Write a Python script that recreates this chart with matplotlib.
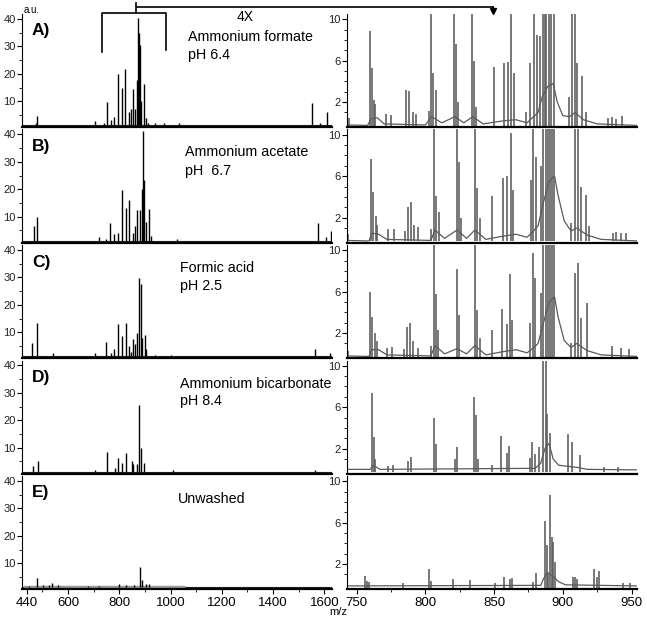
import matplotlib
matplotlib.use("Agg")
import numpy as np
import matplotlib.pyplot as plt
from matplotlib.lines import Line2D

plt.rcParams['font.family'] = ['Liberation Sans', 'DejaVu Sans']

# ---- full range spectra (left column), peak m/z and intensity (a.u.)
leftA_mz = [473, 478, 703, 741, 750.6, 766, 778.5, 795.4, 809.8, 822.9, 836, 843.8, 851.6, 859.5, 867.3,
            873.8, 876, 879, 885.6, 896, 904, 913, 940, 975, 1031, 1552, 1582, 1609]
leftA_h = [2.2, 4.6, 2.8, 2.0, 9.8, 3.0, 4.4, 20, 14.9, 21.8, 6.0, 7.0, 14.5, 7.0, 17.9,
           40.5, 35, 30.6, 10, 16.4, 4.0, 2.0, 2.0, 2.0, 2.0, 9.2, 2.0, 6.2]
leftB_mz = [467.5, 478.6, 719, 747.7, 764.7, 777.8, 794.8, 810.5, 826.1, 839.2, 854.9, 862.7, 869.3, 882.4,
            888, 891.5, 896.7, 904.6, 915, 921.6, 1026, 1575, 1605, 1627]
leftB_h = [6.6, 9.9, 2.6, 2.0, 7.8, 3.6, 4.2, 19.6, 13.3, 16.0, 4.2, 6.6, 12.3, 12.6,
           20, 41.2, 23.5, 8.0, 12.9, 3.0, 2.0, 7.8, 2.5, 4.8]
leftC_mz = [460.9, 477.9, 539.3, 706.7, 749.8, 765.5, 778.6, 794.3, 811.3, 824.3, 837.4, 846.5, 854.4, 860.9,
            870, 877.9, 883, 888.3, 898.8, 905, 940, 1000, 1562, 1621]
leftC_h = [6.0, 13.2, 2.5, 2.3, 6.6, 2.5, 3.9, 12.9, 8.5, 13.5, 4.9, 2.8, 7.5, 5.6,
           9.7, 29.6, 27.7, 8.0, 9.0, 4.0, 1.8, 1.8, 3.7, 2.3]
leftD_mz = [462, 480.7, 706.7, 752.5, 781.2, 795.6, 811.3, 824.3, 847.8, 853, 867.3, 877.8, 883, 896, 1008, 1562]
leftD_h = [3.3, 5.1, 1.8, 8.5, 2.6, 6.1, 4.5, 8.0, 5.1, 4.0, 3.9, 25.5, 10, 4.5, 1.8, 1.8]
leftE_mz = [448, 478.6, 502, 524, 538, 560, 678, 719, 797, 826, 856, 882, 888, 904, 917]
leftE_h = [1.8, 4.6, 2.0, 2.2, 2.8, 2.0, 1.6, 1.8, 2.5, 2.0, 2.0, 8.5, 4.0, 2.5, 2.3]
left_base = [1.2, 1.2, 1.2, 1.2, 1.2]
unwashed_noise = [430, 1050]  # m/z range of the grey noise band in E

# ---- 4X zoom 745-955 (right column)
zoomA_mz = [744.5, 760, 761.2, 762.7, 763.7, 771.6, 775.3, 786.2, 787.8, 791, 793.5, 802.4, 804.3, 805.5, 807.5,
            821, 822.5, 823.7, 833.9, 835.1, 837, 849.9, 857.1, 860, 862.5, 864.2, 873.4, 876.5, 879, 881.2,
            883.6, 885.5, 886.7, 888, 889.9, 891.6, 893.3, 904.5, 906.4, 908.8, 910.3, 913.9, 917, 933.2,
            935.7, 938.6, 943]
zoomA_h = [0.5, 8.9, 5.3, 2.2, 1.8, 0.9, 0.8, 3.2, 3.1, 1.0, 0.9, 1.1, 12, 4.8, 3.2,
           12, 7.6, 2.0, 12, 6.0, 1.5, 5.4, 5.8, 5.9, 12, 4.8, 1.0, 5.8, 12, 8.5,
           8.4, 12, 12, 12, 12, 12, 12, 2.5, 12, 12, 5.8, 4.5, 1.0, 0.5,
           0.6, 0.4, 0.7]
zoomB_mz = [744, 760.7, 761.9, 763.8, 765, 772.8, 776.9, 784.9, 787.6, 789.5, 791.5, 794.6, 804.3, 806.5,
            807.9, 809.9, 823.2, 824.4, 826, 836.3, 837.5, 840, 848.8, 856.3, 859.7, 862.1, 864, 876.7, 878.6,
            880.5, 884, 885.9, 887.5, 889, 890.5, 892, 893.7, 905.7, 908.6, 911, 913, 916.8, 919, 936.4, 939,
            942, 946]
zoomB_h = [0.4, 7.7, 4.5, 2.2, 1.3, 0.9, 0.9, 0.7, 3.0, 3.5, 1.3, 1.1, 0.9, 12,
           4.1, 2.5, 12, 7.4, 2.0, 12, 4.9, 2.0, 4.1, 5.8, 6.0, 10.2, 4.7, 5.6, 12,
           7.8, 7.0, 12, 12, 12, 12, 12, 12, 1.5, 12, 12, 5.0, 4.2, 1.2, 0.5, 0.6,
           0.5, 0.5]
zoomC_mz = [744, 760, 761.3, 763.2, 765, 772, 776, 784.5, 786.9, 788.9, 791, 794.5, 803.9, 806.1, 807.5,
            809.5, 822.9, 824.4, 836.3, 837.5, 840, 848.8, 856, 859.3, 861.7, 863.4, 876.2, 878.4, 879.8,
            884, 885.9, 887.5, 889, 890.5, 892, 893.7, 906, 908.6, 911, 913, 917.3, 936, 942, 948]
zoomC_h = [0.3, 6.0, 3.6, 2.0, 1.2, 0.6, 0.7, 0.5, 2.6, 3.0, 1.2, 0.6, 0.8, 12, 5.8,
           2.3, 8.2, 3.7, 12, 4.2, 1.5, 2.3, 4.3, 2.9, 7.7, 3.3, 3.0, 9.7, 7.3,
           5.9, 12, 12, 12, 12, 12, 12, 1.0, 7.8, 8.8, 3.5, 4.9, 0.8, 0.6, 0.5]
zoomD_mz = [761.1, 762.4, 763.6, 772.8, 776.5, 787.3, 789.8, 806.2, 807.5, 821.5, 822.9, 835.3, 836.5, 838,
            848.8, 855.3, 859.3, 861.2, 876, 877.9, 879.6, 882.7, 885.5, 887.5, 888.5, 890.4, 904, 906.4,
            912.4, 930, 940]
zoomD_h = [7.4, 3.1, 1.0, 0.3, 0.4, 0.8, 1.2, 5.0, 2.4, 1.0, 2.2, 7.0, 5.2, 1.0,
           0.4, 3.2, 1.6, 2.3, 1.1, 2.6, 1.5, 2.2, 12, 12, 5.3, 3.5, 3.4, 2.6,
           1.4, 0.2, 0.2]
zoomE_mz = [756, 757.5, 759, 783.9, 802.8, 804, 820.2, 832.6, 850.5, 857.5, 861.4, 863.3, 878.5, 880.2,
            887.3, 888.2, 889.4, 890.6, 891.8, 893, 894.2, 907.6, 908.8, 910, 922.9, 924.6, 926.5, 944, 948.8]
zoomE_h = [0.9, 0.4, 0.3, 0.2, 1.5, 0.4, 0.6, 0.5, 0.15, 0.8, 0.6, 0.7, 0.3, 1.1,
           6.2, 3.8, 1.0, 8.7, 4.6, 4.1, 2.2, 0.8, 0.8, 0.6, 1.5, 0.8, 1.3, 0.2, 0.2]

# baselines of the zoomed traces (m/z, level)
baseA_mz = [743, 758, 760.5, 765, 770, 800, 804.5, 812, 821.5, 828, 834.5, 842, 857, 866, 874,
            878, 882, 885, 889, 893, 896, 900, 905, 909, 915, 925, 954]
baseA = [-0.2, -0.25, 0.4, 0.5, -0.1, -0.2, 0.6, 0.0, 0.6, 0.0, 0.6, -0.1, 0.2, 0.3, 0.0,
         0.5, 1.0, 2.5, 3.5, 3.8, 2.0, 0.7, 0.6, 1.0, 0.3, -0.1, -0.25]
baseBC_mz = [743, 759, 761, 766, 772, 804, 807, 814, 823, 830, 836, 844, 856, 866, 874,
             878, 882, 886, 890, 894, 896.5, 901, 906, 910, 918, 928, 954]
baseB = [-0.2, -0.25, 0.5, 0.4, -0.1, -0.2, 0.8, 0.0, 0.8, 0.0, 0.8, -0.1, 0.2, 0.4, 0.1,
         0.6, 1.2, 3.5, 5.5, 6.0, 4.2, 1.7, 0.7, 1.0, 0.3, -0.1, -0.25]
baseC = [-0.2, -0.25, 0.4, 0.4, -0.1, -0.2, 0.8, 0.0, 0.5, 0.0, 0.8, -0.1, 0.2, 0.4, 0.1,
         0.5, 1.0, 3.0, 5.0, 5.5, 3.6, 1.3, 0.6, 1.0, 0.3, -0.1, -0.25]
baseD_mz = [743, 760, 762, 767, 880, 884, 887, 890, 893, 897, 903, 910, 918, 954]
baseD = [0.0, 0.0, 0.4, 0.0, 0.1, 0.6, 2.0, 2.5, 1.0, 0.4, 0.3, 0.2, 0.0, -0.05]
baseE_mz = [743, 884, 886, 889, 893, 897, 902, 954]
baseE = [-0.1, -0.05, 0.6, 1.2, 0.8, 0.3, 0.0, -0.1]

panel_labels = ['A)', 'B)', 'C)', 'D)', 'E)']
conditions = [['Ammonium formate', 'pH 6.4'], ['Ammonium acetate', 'pH  6.7'], ['Formic acid', 'pH 2.5'],
              ['Ammonium bicarbonate', 'pH 8.4'], ['Unwashed']]
cond_x = [188, 185, 180, 180, 178]

leftData = [(leftA_mz, leftA_h), (leftB_mz, leftB_h), (leftC_mz, leftC_h), (leftD_mz, leftD_h),
            (leftE_mz, leftE_h)]
rightData = [(zoomA_mz, zoomA_h, baseA_mz, baseA), (zoomB_mz, zoomB_h, baseBC_mz, baseB),
             (zoomC_mz, zoomC_h, baseBC_mz, baseC), (zoomD_mz, zoomD_h, baseD_mz, baseD),
             (zoomE_mz, zoomE_h, baseE_mz, baseE)]

W, H = 647.0, 621.0
fig = plt.figure(figsize=(W / 100, H / 100), dpi=100)


def pxRect(x0, x1, top, bottom):
    return [x0 / W, 1 - bottom / H, (x1 - x0) / W, (bottom - top) / H]


def styleAxes(ax, last):
    for s in ['top', 'right']:
        ax.spines[s].set_visible(False)
    ax.spines['left'].set_linewidth(0.8)
    ax.spines['bottom'].set_linewidth(1.6)
    ax.tick_params(axis='y', which='major', length=3.5, width=0.8, labelsize=8, pad=1, labelcolor='#222222')
    ax.tick_params(axis='y', which='minor', length=2, width=0.6)
    if last:
        ax.tick_params(axis='x', which='major', length=3.5, width=0.8, labelsize=9.5, pad=2)
        ax.tick_params(axis='x', which='minor', length=2, width=0.6)
    else:
        ax.tick_params(axis='x', which='both', bottom=False, labelbottom=False)


bottoms = [127, 242.5, 358, 473.5, 589]
rowH = 113
for i in range(5):
    last = (i == 4)
    # left: full m/z range
    ax = fig.add_axes(pxRect(22, 332, bottoms[i] - rowH, bottoms[i]))
    mz, h = leftData[i]
    ax.plot([415, 1640], [left_base[i], left_base[i]], color='#222222', lw=0.8)
    if last:
        ax.plot(unwashed_noise, [left_base[i], left_base[i]], color='#999999', lw=2.5)
    ax.vlines(mz, left_base[i], h, color='black', lw=1.0)
    ax.set_xlim(420, 1630)
    ax.set_ylim(0.6, 41.8)
    ax.set_yticks([10, 20, 30, 40])
    ax.set_yticks([5, 15, 25, 35], minor=True)
    ax.set_xticks([440, 600, 800, 1000, 1200, 1400, 1600])
    ax.set_xticks([500, 700, 900, 1100, 1300, 1500], minor=True)
    styleAxes(ax, last)

    # right: 4X zoom
    ax2 = fig.add_axes(pxRect(347, 637, bottoms[i] - rowH, bottoms[i]))
    zmz, zh, bmz, bl = rightData[i]
    ax2.plot(bmz, bl, color='#5a5a5a', lw=0.9)
    ax2.vlines(zmz, -0.3, zh, color='#5a5a5a', lw=1.15)
    ax2.set_xlim(743, 954)
    ax2.set_ylim(-0.4, 10.5)
    ax2.set_yticks([2, 6, 10])
    ax2.set_yticks([1, 3, 4, 5, 7, 8, 9], minor=True)
    ax2.set_xticks([750, 800, 850, 900, 950])
    ax2.set_xticks([775, 825, 875, 925], minor=True)
    styleAxes(ax2, last)

    top = bottoms[i] - rowH
    fig.text(32 / W, 1 - (top + 17) / H, panel_labels[i], fontsize=12.5, fontweight='bold', va='center')
    for j, line in enumerate(conditions[i]):
        fig.text(cond_x[i] / W, 1 - (top + 23 + j * 18) / H, line, fontsize=10.3, va='center')

fig.text(24 / W, 1 - 10 / H, 'a.u.', fontsize=7, va='center')
fig.text(338 / W, 1 - 612 / H, 'm/z', fontsize=8, ha='center', va='center')
fig.text(245 / W, 1 - 17 / H, '4X', fontsize=10, ha='center', va='center')


def figLine(xs, ys, **kw):
    fig.add_artist(Line2D([x / W for x in xs], [1 - y / H for y in ys], transform=fig.transFigure,
                          color='black', **kw))


# bracket over the expanded region and arrow to the right column
figLine([101.7, 101.7, 166.3, 166.3], [52, 12.7, 12.7, 50], lw=1.2)
figLine([136, 136], [12.7, 3], lw=1.2)
figLine([137, 493], [6.5, 6.5], lw=1.2)
figLine([493, 493], [6.5, 10], lw=1.2)
figLine([493], [11], marker='v', markersize=5, lw=0)

fig.savefig('out.png', dpi=100)
